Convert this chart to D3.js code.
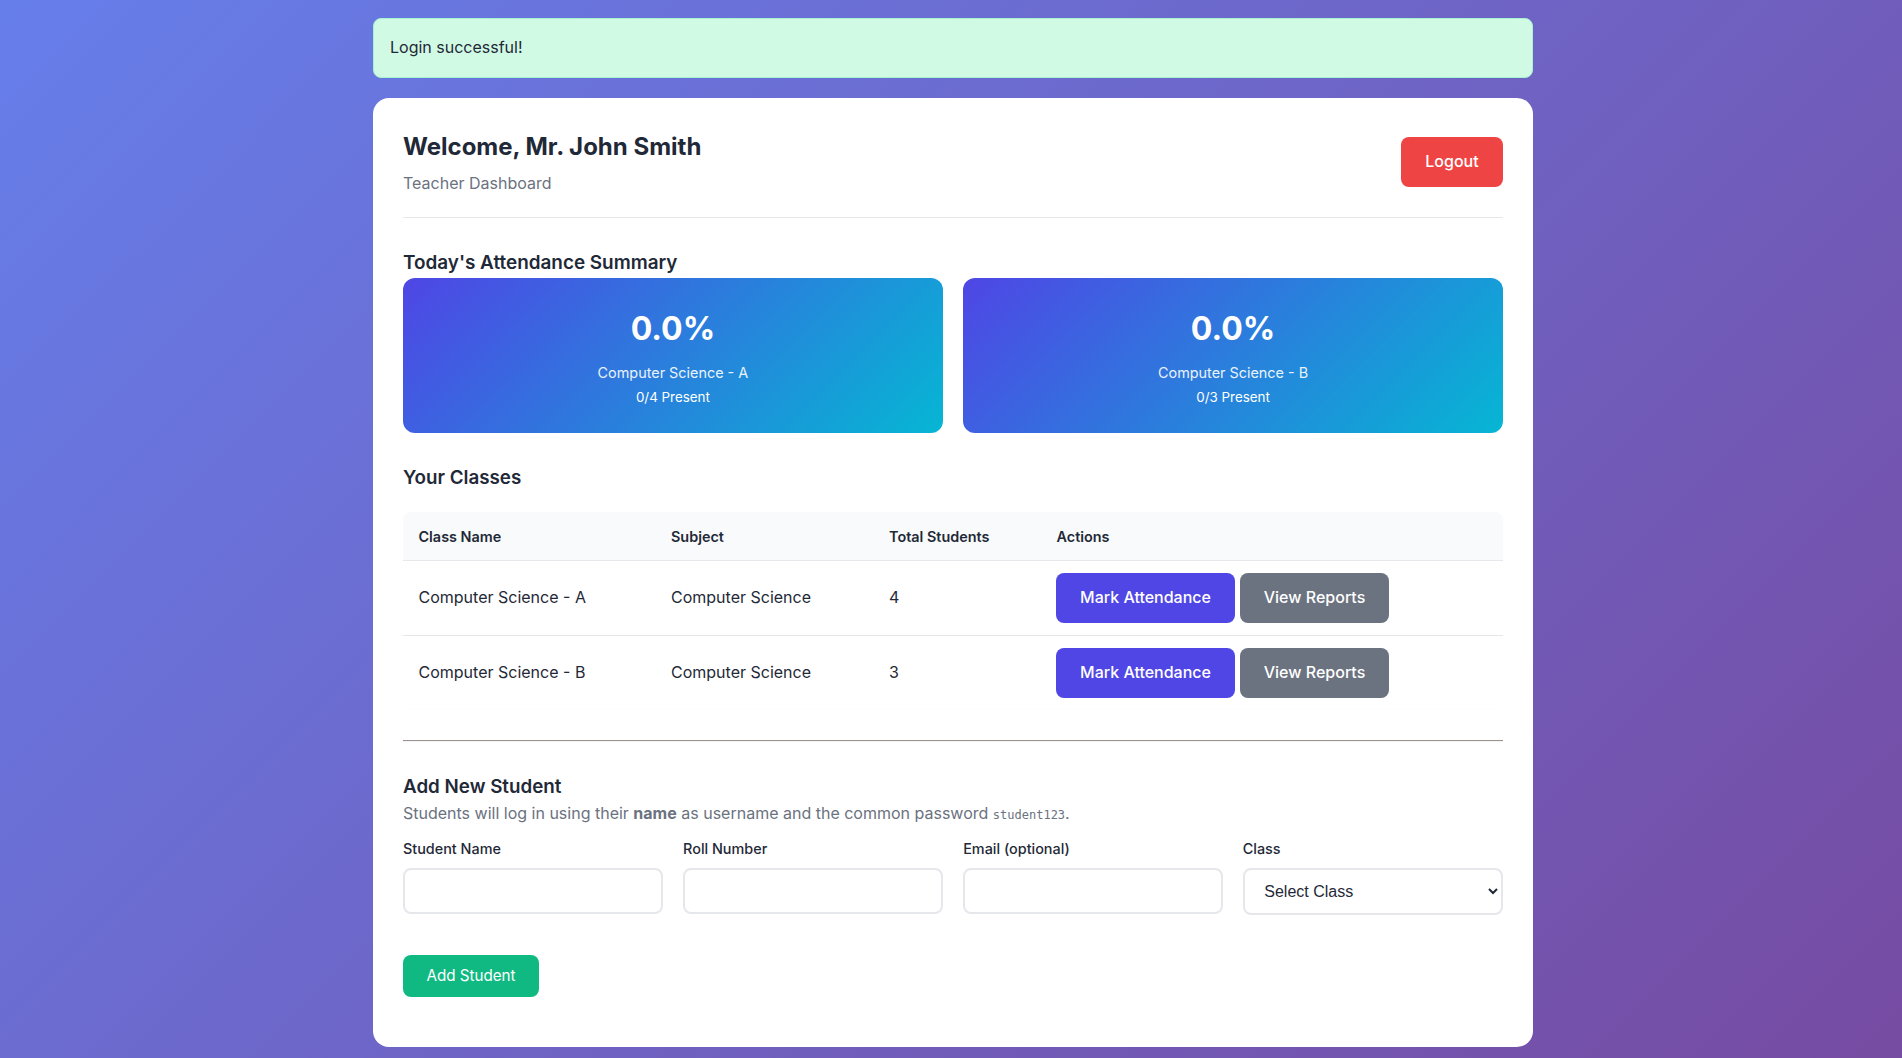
<!DOCTYPE html>
<html>
<head>
<meta charset="utf-8">
<title>Teacher Dashboard</title>
<script src="https://cdn.jsdelivr.net/npm/d3@7"></script>
<style>
* { box-sizing: border-box; }
html, body { margin: 0; height: 100%; overflow: hidden; }
body { font-family: Inter, "Noto Sans", sans-serif; color: #1f2937; background: linear-gradient(135deg, #667eea 0%, #764ba2 100%); }
.abs { position: absolute; white-space: nowrap; }
#alert { left: 373px; top: 18px; width: 1160px; height: 60px; background: #d1fae5; border: 1px solid #a7f3d0; border-radius: 8px; padding: 0 16px; line-height: 56px; font-size: 16px; color: #1f2937; }
#panel { left: 373px; top: 98px; width: 1160px; height: 949px; background: #fff; border-radius: 16px; }
.btn { display: flex; align-items: center; justify-content: center; color: #fff; font-size: 16px; font-weight: 500; border-radius: 8px; padding-bottom: 2px; }
.summary { color: #fff; border-radius: 12px; background: linear-gradient(135deg, #4f46e5, #06b6d4); text-align: center; }
.summary div { position: absolute; left: 0; right: 0; }
.rule { height: 1px; background: #e5e7eb; }
.field { background: #fff; border: 2px solid #e5e7eb; border-radius: 8px; }
select { font-family: "Liberation Sans", Arial, sans-serif; font-size: 16px; color: #1f2937; padding: 0 15px; outline: none; }
code { font-family: "DejaVu Sans Mono", monospace; font-size: 12px; }
</style>
</head>
<body>
<div id="page"></div>
<script>
var teacherName = "Mr. John Smith";
var classNames = ["Computer Science - A", "Computer Science - B"];
var subjects = ["Computer Science", "Computer Science"];
var totalStudents = [4, 3];
var presentStudents = [0, 0];
var tableHeaders = ["Class Name", "Subject", "Total Students", "Actions"];
var fieldLabels = ["Student Name", "Roll Number", "Email (optional)", "Class"];

var page = d3.select("#page");

// place a block at absolute page coordinates
function box(id, cls, left, top, width, height) {
	var el = page.append("div").attr("class", "abs " + (cls || ""));
	if (id) el.attr("id", id);
	el.style("left", left + "px").style("top", top + "px");
	if (width != null) el.style("width", width + "px");
	if (height != null) el.style("height", height + "px");
	return el;
}

function textAt(str, left, centerY, size, weight, color) {
	return box(null, "", left, centerY - size, null, size * 2)
		.style("line-height", size * 2 + "px")
		.style("font-size", size + "px")
		.style("font-weight", weight)
		.style("color", color)
		.text(str);
}

box("alert", "").text("Login successful!").attr("style", null);
box("panel", "").attr("style", null);

/********************************** Header *******************************************/
textAt("Welcome, " + teacherName, 403, 147, 24, 700, "#1f2937");
textAt("Teacher Dashboard", 403, 183, 16, 400, "#6b7280");
box(null, "btn", 1401, 137, 102, 50).style("background", "#ef4444").text("Logout");
box(null, "rule", 403, 217, 1100, 1);

/********************************** Summary *******************************************/
textAt("Today's Attendance Summary", 403, 263, 18.9, 600, "#1f2937");

var cardX = d3.scaleBand().domain(d3.range(classNames.length)).range([403, 1503]).paddingInner(20 / 550);

classNames.forEach(function(name, i) {
	var pct = totalStudents[i] ? presentStudents[i] / totalStudents[i] * 100 : 0;
	var card = box(null, "summary", cardX(i), 278, cardX.bandwidth(), 155);
	card.append("div").style("top", "27px").style("font-size", "32px").style("font-weight", 700)
		.style("line-height", "48px").text(pct.toFixed(1) + "%");
	card.append("div").style("top", "85px").style("font-size", "14.4px").style("line-height", "20px")
		.style("opacity", 0.9).text(name);
	card.append("div").style("top", "109px").style("font-size", "13.4px").style("line-height", "20px")
		.text(presentStudents[i] + "/" + totalStudents[i] + " Present");
});

/********************************** Classes table *******************************************/
textAt("Your Classes", 403, 478, 18.8, 600, "#1f2937");

var colX = [418.5, 671, 889, 1056.5];
var rowTop = d3.scaleLinear().domain([0, 1]).range([561, 636]);

box(null, "", 403, 512, 1100, 197).style("border-radius", "8px").style("box-shadow", "0 1px 1px rgba(0,0,0,.012)");
box(null, "", 403, 512, 1100, 49).style("background", "#f9fafb").style("border-radius", "8px 8px 0 0");
box(null, "rule", 403, 560, 1100, 1);
tableHeaders.forEach(function(h, i) {
	textAt(h, colX[i], 537, 14.4, 600, "#1f2937");
});

classNames.forEach(function(name, i) {
	var top = rowTop(i), mid = top + 36;
	textAt(name, colX[0], mid, 16, 400, "#1f2937");
	textAt(subjects[i], colX[1], mid, 16, 400, "#1f2937");
	textAt(totalStudents[i], colX[2], mid, 16, 400, "#1f2937");
	box(null, "btn", 1056, top + 12, 179, 50).style("background", "#4f46e5").text("Mark Attendance");
	box(null, "btn", 1240, top + 12, 149, 50).style("background", "#6b7280").text("View Reports");
	if (i < classNames.length - 1) box(null, "rule", 403, top + 74, 1100, 1);
});

box(null, "rule", 403, 740, 1100, 1).style("background", "#9b9290");
box(null, "rule", 403, 741, 1100, 1).style("background", "#f4f4f4");

/********************************** Add student form *******************************************/
textAt("Add New Student", 403, 787, 18.8, 600, "#1f2937");

var note = textAt("", 403, 813, 16, 400, "#6b7280");
note.html("Students will log in using their <strong>name</strong> as username and the common password <code>student123</code>.");

var fieldX = d3.scaleBand().domain(d3.range(fieldLabels.length)).range([403, 1503]).paddingInner(20 / 275);

fieldLabels.forEach(function(label, i) {
	textAt(label, fieldX(i) - (i == 3 ? 0.5 : 0), 849, 14.4, 500, "#1f2937");
	if (i < 3) {
		box(null, "field", fieldX(i), 868, fieldX.bandwidth(), 46);
	} else {
		var holder = box(null, "", fieldX(i), 868, fieldX.bandwidth(), 47);
		holder.append("select").attr("class", "field")
			.style("width", "100%").style("height", "100%")
			.append("option").text("Select Class");
	}
});

box(null, "btn", 403, 955, 136, 42).style("background", "#10b981").style("font-weight", 400)
	.style("font-size", "15.2px").text("Add Student");
</script>
</body>
</html>
